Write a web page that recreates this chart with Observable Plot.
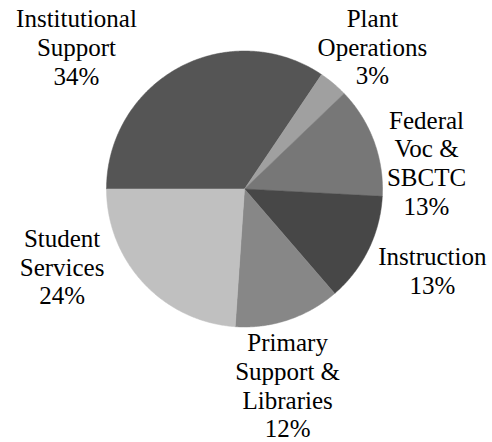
<!DOCTYPE html>
<html>
<head>
<meta charset="utf-8">
<script src="https://cdn.jsdelivr.net/npm/d3@7"></script>
<script src="https://cdn.jsdelivr.net/npm/@observablehq/plot@0.6"></script>
<style>
  html, body { margin: 0; padding: 0; background: #ffffff; }
  #chart svg { display: block; }
  #chart svg text, #chart svg tspan { font-family: "Liberation Serif", "Tinos", "Times New Roman", "DejaVu Serif", "Noto Serif", serif !important; }
</style>
</head>
<body>
<div id="chart"></div>
<script>
// ---- data ----
const categories = ["Institutional Support", "Plant Operations", "Federal Voc & SBCTC", "Instruction", "Primary Support & Libraries", "Student Services"];
const labelLines = [
  ["Institutional", "Support"],
  ["Plant", "Operations"],
  ["Federal", "Voc &", "SBCTC"],
  ["Instruction"],
  ["Primary", "Support &", "Libraries"],
  ["Student", "Services"]
];
const values = [34.4, 3.4, 13.0, 12.8, 12.4, 23.9];
const sliceColors = ["#555555", "#a0a0a0", "#777777", "#474747", "#878787", "#c0c0c0"];

// ---- layout (label anchors: polar angle in degrees clockwise from 12 o'clock, distance in pie radii) ----
const labelAngle = [310.2, 41.9, 81.7, 113.5, 167.6, 247.0];
const labelRadius = [1.594, 1.388, 1.333, 1.484, 1.455, 1.436];

const W = 492, H = 442, R = 138, CX = 244, CY = 188.5;

const pie = d3.pie().sort(null).startAngle(-Math.PI / 2).endAngle(3 * Math.PI / 2);
const arcs = pie(values);
const total = d3.sum(values);

// slice outlines in unit-radius data space
const slices = arcs.map((a, i) => {
  const pts = [{x: 0, y: 0}];
  const n = Math.max(4, Math.ceil((a.endAngle - a.startAngle) / (Math.PI / 360)));
  for (let k = 0; k <= n; k++) {
    const t = a.startAngle + (a.endAngle - a.startAngle) * k / n;
    pts.push({x: Math.sin(t), y: Math.cos(t)});
  }
  pts.push({x: 0, y: 0});
  return {pts, color: sliceColors[i]};
});

const labels = categories.map((c, i) => {
  const t = labelAngle[i] * Math.PI / 180;
  const pct = Math.round(values[i] / total * 100) + "%";
  return {
    x: labelRadius[i] * Math.sin(t),
    y: labelRadius[i] * Math.cos(t),
    text: [...labelLines[i], pct].join("\n")
  };
});

const chart = Plot.plot({
  width: W,
  height: H,
  margin: 0,
  style: {background: "#ffffff"},
  x: {domain: [-CX / R, (W - CX) / R], axis: null},
  y: {domain: [-(H - CY) / R, CY / R], axis: null},
  marks: [
    ...slices.map(s => Plot.line(s.pts, {x: "x", y: "y", fill: s.color, stroke: s.color, strokeWidth: 0.5, curve: "linear"})),
    Plot.text(labels, {
      x: "x", y: "y", text: "text",
      fontFamily: "Liberation Serif, Times New Roman, DejaVu Serif, serif",
      fontSize: 25,
      lineHeight: 1.15,
      fill: "#000000",
      textAnchor: "middle"
    })
  ]
});
document.getElementById("chart").appendChild(chart);
</script>
</body>
</html>
